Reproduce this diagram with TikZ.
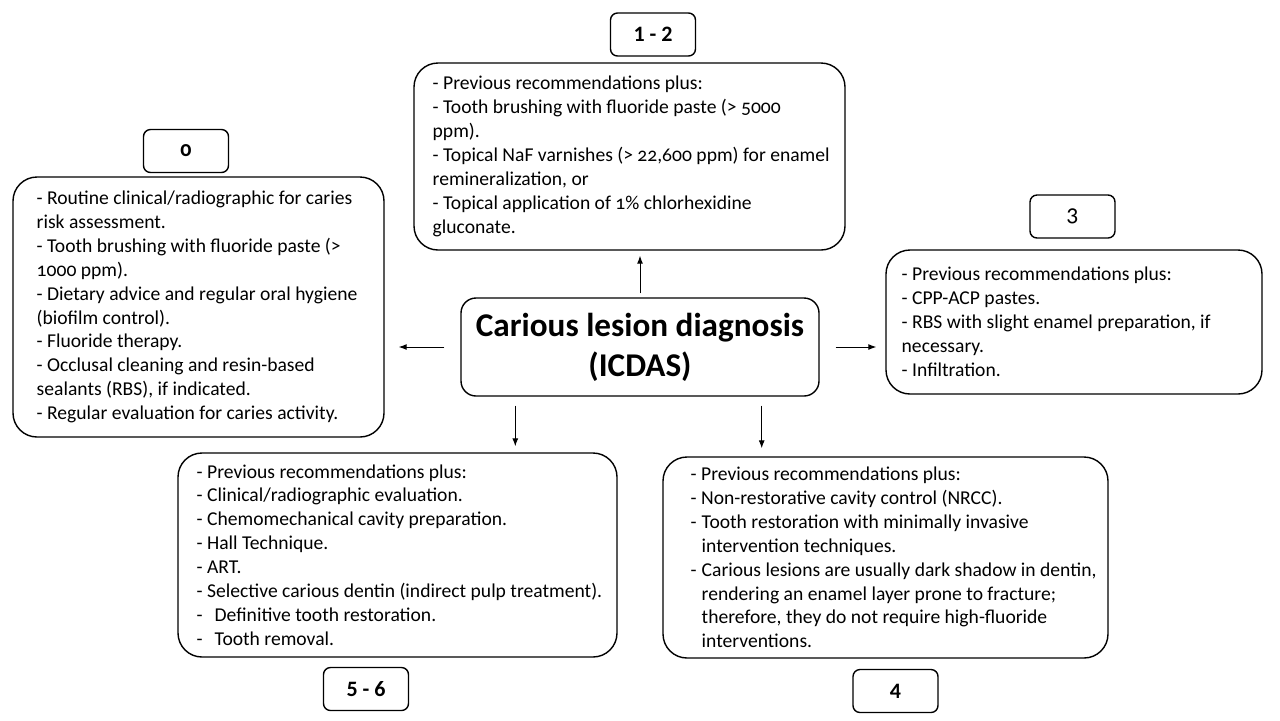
\documentclass[tikz,border=0pt]{standalone}
\usepackage{fontspec}
\setmainfont{Carlito}[Numbers=OldStyle]
\usetikzlibrary{arrows.meta,calc}

\newcommand{\hangdash}[1]{\makebox[#1][l]{-}}

\tikzset{
  stage/.style={draw, line width=0.7pt, rounded corners=12pt, inner sep=0pt},
  stagetext/.style={align=left, inner sep=0pt, anchor=west,
    font=\fontsize{9.8}{11.95}\selectfont},
  score/.style={draw, line width=0.7pt, rounded corners=3.5pt, inner sep=0pt,
    minimum width=42.5pt, minimum height=21.5pt,
    font=\fontsize{11}{13}\selectfont\bfseries\addfontfeatures{Numbers=Lining}},
  arr/.style={-{Latex[length=4pt,width=3pt]}, line width=0.5pt},
}

\begin{document}
\begin{tikzpicture}[x=0.5pt, y=-0.5pt]
  \useasboundingbox (0,0) rectangle (1280,720);

  %%%%% centre %%%%%
  \node[draw, line width=0.7pt, rounded corners=7.5pt, minimum width=179pt,
    minimum height=49pt, inner sep=0pt, align=center,
    font=\fontsize{16.6}{20}\selectfont\bfseries] (diag) at (640,347)
    {Carious lesion diagnosis\\(ICDAS)};

  %%%%% stage boxes %%%%%
  \node[stage, minimum width=185.5pt, minimum height=130pt] (st0) at (198.5,307) {};
  \node[stagetext] (tx0) at ([xshift=12pt]st0.west)
    {- Routine clinical/radiographic for caries\\
     risk assessment.\\
     - Tooth brushing with fluoride paste (>\\
     1000 ppm).\\
     - Dietary advice and regular oral hygiene\\
     (biofilm control).\\
     - Fluoride therapy.\\
     - Occlusal cleaning and resin-based\\
     sealants (RBS), if indicated.\\
     - Regular evaluation for caries activity.};

  \node[stage, minimum width=215.5pt, minimum height=93.5pt] (st12) at (629.5,156.5) {};
  \node[stagetext] (tx12) at ([xshift=9.5pt]st12.west)
    {- Previous recommendations plus:\\
     - Tooth brushing with fluoride paste (> 5000\\
     ppm).\\
     - Topical NaF varnishes (> 22,600 ppm) for enamel\\
     remineralization, or\\
     - Topical application of 1\% chlorhexidine\\
     gluconate.};

  \node[stage, minimum width=188pt, minimum height=72pt] (st3) at (1074,322) {};
  \node[stagetext] (tx3) at ([xshift=8pt]st3.west)
    {- Previous recommendations plus:\\
     - CPP-ACP pastes.\\
     - RBS with slight enamel preparation, if\\
     necessary.\\
     - Infiltration.};

  \node[stage, minimum width=219.5pt, minimum height=102pt] (st56) at (397.5,555) {};
  \node[stagetext] (tx56) at ([xshift=9.5pt]st56.west)
    {- Previous recommendations plus:\\
     - Clinical/radiographic evaluation.\\
     - Chemomechanical cavity preparation.\\
     - Hall Technique.\\
     - ART.\\
     - Selective carious dentin (indirect pulp treatment).\\
     \hangdash{9pt}Definitive tooth restoration.\\
     \hangdash{9pt}Tooth removal.};

  \node[stage, minimum width=222.5pt, minimum height=100.5pt] (st4) at (885.5,557.5) {};
  \node[stagetext] (tx4) at ([xshift=14pt]st4.west)
    {- Previous recommendations plus:\\
     - Non-restorative cavity control (NRCC).\\
     \hangdash{5.5pt}Tooth restoration with minimally invasive\\
     \hspace*{5.5pt}intervention techniques.\\
     \hangdash{5.5pt}Carious lesions are usually dark shadow in dentin,\\
     \hspace*{5.5pt}rendering an enamel layer prone to fracture;\\
     \hspace*{5.5pt}therefore, they do not require high-fluoride\\
     \hspace*{5.5pt}interventions.};

  %%%%% ICDAS scores %%%%%
  \node[score, font=\fontsize{11}{13}\selectfont\bfseries] (sc0) at (186,151) {0};
  \node[score] (sc12) at (653,34.5) {1 - 2};
  \node[score, font=\fontsize{12}{14}\selectfont] (sc3) at (1072.5,216.5) {3};
  \node[score] (sc56) at (366,689) {5 - 6};
  \node[score] (sc4) at (895.5,691) {4};

  %%%%% arrows %%%%%
  \draw[arr, shorten <=2pt, shorten >=2.5pt] (diag.north) -- (diag.north |- st12.south);
  \draw[arr, shorten <=8pt, shorten >=7pt] (diag.west) -- (diag.west -| st0.east);
  \draw[arr, shorten <=8pt, shorten >=4.5pt] (diag.east) -- (diag.east -| st3.west);
  \coordinate (dl) at ([xshift=27.5pt]diag.south west);
  \coordinate (dr) at ([xshift=-29pt]diag.south east);
  \draw[arr, shorten <=4.5pt, shorten >=3pt] (dl) -- (dl |- st56.north);
  \draw[arr, shorten <=4.5pt, shorten >=4pt] (dr) -- (dr |- st4.north);
\end{tikzpicture}
\end{document}
